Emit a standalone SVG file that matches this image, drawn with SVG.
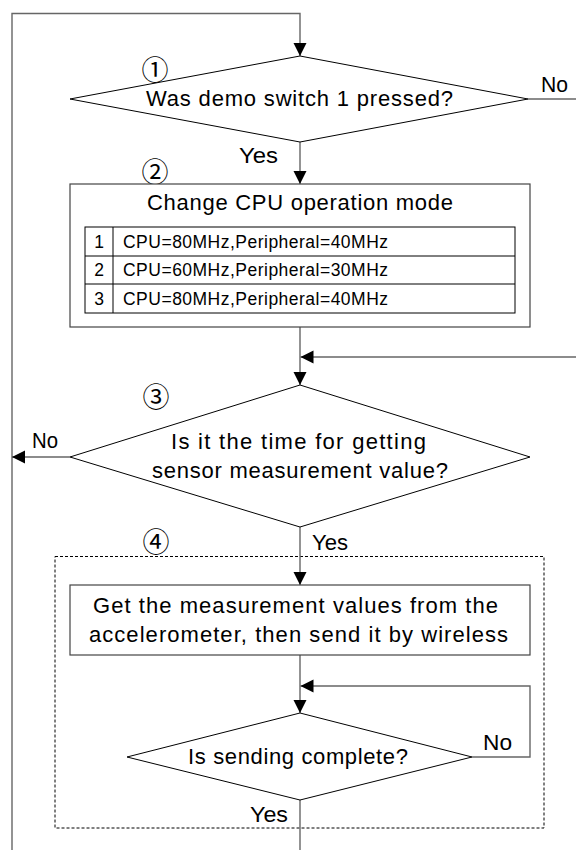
<svg xmlns="http://www.w3.org/2000/svg" width="576" height="850" viewBox="0 0 576 850">
  <defs>
    <marker id="arrow" markerUnits="userSpaceOnUse" markerWidth="14" markerHeight="14" viewBox="0 0 14 14" refX="13" refY="7" orient="auto">
      <path d="M0,0.5 L13,7 L0,13.5 Z" fill="#000"/>
    </marker>
    <style>
      .conn { fill: none; stroke: #666; stroke-width: 1.4; }
      .dia { fill: #fff; stroke: #000; stroke-width: 1; }
      .box { fill: #fff; stroke: #444; stroke-width: 1.2; }
      .cell { fill: none; stroke: #000; stroke-width: 1; }
      .dash { fill: none; stroke: #000; stroke-width: 1; stroke-dasharray: 3 2; }
      .t { font-family: "Liberation Sans", Arial, sans-serif; font-size: 22px; fill: #000; }
      .s { font-family: "Liberation Sans", Arial, sans-serif; font-size: 17.5px; fill: #000; }
      .num { font-family: "Noto Sans CJK JP", "DejaVu Sans", sans-serif; font-size: 27px; fill: #000; text-anchor: middle; }
    </style>
  </defs>
  <rect width="576" height="850" fill="#fff"/>

  <!-- group boundary for step 4 -->
  <rect id="step4-frame" class="dash" x="55" y="556.5" width="489" height="271.5"/>

  <g id="connectors">
    <path class="conn" d="M12,850 V13.5 H300 V56" marker-end="url(#arrow)"/>
    <path class="conn" d="M300,142 V184" marker-end="url(#arrow)"/>
    <path class="conn" d="M528,99 H576"/>
    <path class="conn" d="M300,327 V385" marker-end="url(#arrow)"/>
    <path class="conn" d="M576,357 H300.5" marker-end="url(#arrow)"/>
    <path class="conn" d="M70,457 H12" marker-end="url(#arrow)"/>
    <path class="conn" d="M300,527 V585" marker-end="url(#arrow)"/>
    <path class="conn" d="M300,655 V713" marker-end="url(#arrow)"/>
    <path class="conn" d="M472,757 H530 V686 H300.5" marker-end="url(#arrow)"/>
    <path class="conn" d="M300,800 V850"/>
  </g>

  <g id="decision-switch">
    <polygon class="dia" points="300,56 528,99 300,142 70,99"/>
    <text class="num" x="155" y="80">①</text>
    <text class="t" x="146" y="106" textLength="307" lengthAdjust="spacing">Was demo switch 1 pressed?</text>
    <text class="t" x="541" y="92" textLength="27" lengthAdjust="spacingAndGlyphs">No</text>
    <text class="t" x="239" y="163" textLength="39" lengthAdjust="spacingAndGlyphs">Yes</text>
  </g>

  <g id="change-mode">
    <text class="num" x="155" y="182">②</text>
    <rect class="box" x="70" y="184" width="460" height="143"/>
    <text class="t" x="147" y="210" textLength="306" lengthAdjust="spacing">Change CPU operation mode</text>
    <rect class="cell" x="85" y="227" width="430" height="86"/>
    <line class="cell" x1="113" y1="227" x2="113" y2="313"/>
    <line class="cell" x1="85" y1="256" x2="515" y2="256"/>
    <line class="cell" x1="85" y1="284" x2="515" y2="284"/>
    <text class="s" x="99" y="248" text-anchor="middle">1</text>
    <text class="s" x="99" y="276" text-anchor="middle">2</text>
    <text class="s" x="99" y="305" text-anchor="middle">3</text>
    <text class="s" x="123" y="248" textLength="265" lengthAdjust="spacing">CPU=80MHz,Peripheral=40MHz</text>
    <text class="s" x="123" y="276" textLength="265" lengthAdjust="spacing">CPU=60MHz,Peripheral=30MHz</text>
    <text class="s" x="123" y="305" textLength="265" lengthAdjust="spacing">CPU=80MHz,Peripheral=40MHz</text>
  </g>

  <g id="decision-timing">
    <polygon class="dia" points="300,385 530,457 300,527 70,457"/>
    <text class="num" x="156" y="407">③</text>
    <text class="t" x="171" y="449" textLength="255" lengthAdjust="spacing">Is it the time for getting</text>
    <text class="t" x="152" y="478" textLength="296" lengthAdjust="spacing">sensor measurement value?</text>
    <text class="t" x="32" y="448" textLength="26" lengthAdjust="spacingAndGlyphs">No</text>
    <text class="t" x="312" y="550" textLength="36" lengthAdjust="spacingAndGlyphs">Yes</text>
  </g>

  <g id="measure-send">
    <text class="num" x="156" y="552">④</text>
    <rect class="box" x="70" y="585" width="460" height="70"/>
    <text class="t" x="93" y="613" textLength="405" lengthAdjust="spacing">Get the measurement values from the</text>
    <text class="t" x="89" y="642" textLength="419" lengthAdjust="spacing">accelerometer, then send it by wireless</text>
  </g>

  <g id="decision-sent">
    <polygon class="dia" points="300,713 472,757 300,800 127,757"/>
    <text class="t" x="188" y="764" textLength="220" lengthAdjust="spacing">Is sending complete?</text>
    <text class="t" x="483" y="750" textLength="29" lengthAdjust="spacingAndGlyphs">No</text>
    <text class="t" x="250" y="822" textLength="38" lengthAdjust="spacingAndGlyphs">Yes</text>
  </g>
</svg>
